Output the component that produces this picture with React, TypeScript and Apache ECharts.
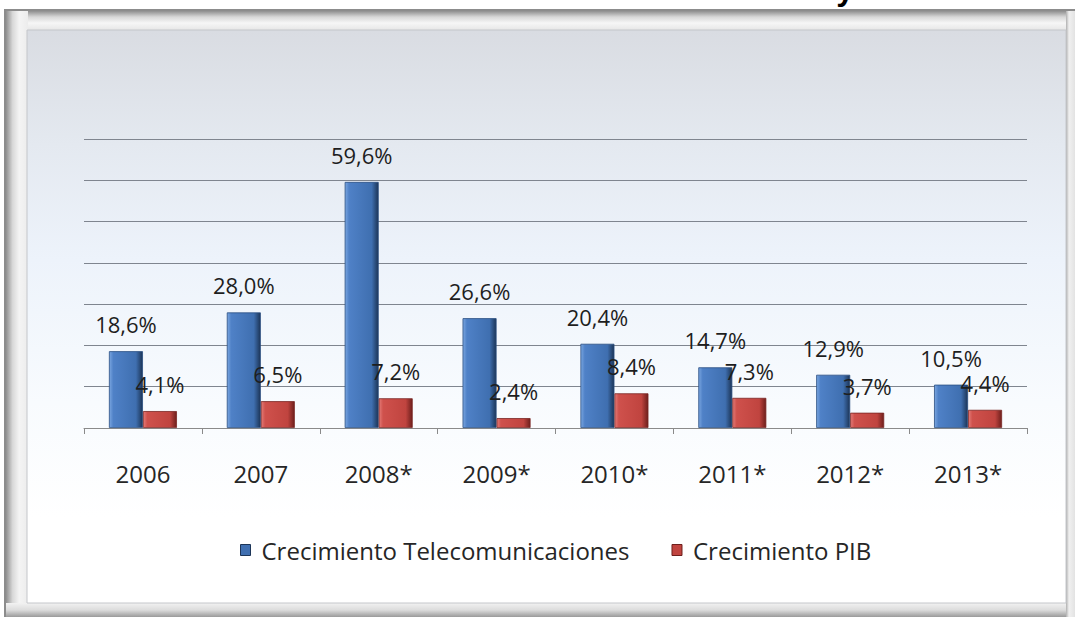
import React, { useEffect, useRef } from "react";
import * as echarts from "echarts";

const categories = ["2006", "2007", "2008*", "2009*", "2010*", "2011*", "2012*", "2013*"];
const telecomGrowth = [18.6, 28.0, 59.6, 26.6, 20.4, 14.7, 12.9, 10.5];
const gdpGrowth = [4.1, 6.5, 7.2, 2.4, 8.4, 7.3, 3.7, 4.4];
const seriesNames = ["Crecimiento Telecomunicaciones", "Crecimiento PIB"];
const titleText = "Crecimiento del sector Telecomunicaciones y del";
const yMin = 0;
const yMax = 70;
const yInterval = 10;

const FONT = "'Open Sans', 'Noto Sans', sans-serif";

const fmt = (v: number) => v.toFixed(1).replace(".", ",") + "%";

const lg = (x2: number, y2: number, stops: [number, string][]) =>
  new echarts.graphic.LinearGradient(0, 0, x2, y2, stops.map(([offset, color]) => ({ offset, color })));

export default function App() {
  const ref = useRef<HTMLDivElement>(null);
  useEffect(() => {
    if (!ref.current) return;
    const chart = echarts.init(ref.current, undefined, { renderer: "svg" });
    const blue = lg(1, 0, [
      [0, "#7aa6e0"],
      [0.12, "#4f81c7"],
      [0.8, "#3f6fb0"],
      [1, "#1c3557"],
    ]);
    const red = lg(1, 0, [
      [0, "#e47b77"],
      [0.12, "#cf514c"],
      [0.8, "#c0443f"],
      [1, "#6e1f1c"],
    ]);
    const labelStyle = {
      show: true,
      position: "top",
      distance: 16,
      formatter: (p: any) => fmt(p.value),
      fontFamily: FONT,
      fontSize: 22,
      color: "#1e1e1e",
    };
    chart.setOption({
      animation: false,
      backgroundColor: "#ffffff",
      graphic: [
        // outer frame
        {
          type: "rect",
          z: -20,
          shape: { x: 5, y: 10, width: 1080, height: 607 },
          style: { fill: "#e9e9e9", stroke: "#8c8c8c", lineWidth: 2 },
          silent: true,
        },
        {
          type: "rect",
          z: -19,
          shape: { x: 6, y: 11, width: 1080, height: 20 },
          style: {
            fill: lg(0, 1, [
              [0, "#8f8f8f"],
              [0.3, "#d8d8d8"],
              [0.6, "#f6f6f6"],
              [1, "#e4e4e4"],
            ]),
          },
          silent: true,
        },
        {
          type: "rect",
          z: -19,
          shape: { x: 6, y: 11, width: 22, height: 606 },
          style: {
            fill: lg(1, 0, [
              [0, "#8f8f8f"],
              [0.3, "#d8d8d8"],
              [0.6, "#f4f4f4"],
              [1, "#ececec"],
            ]),
          },
          silent: true,
        },
        {
          type: "rect",
          z: -19,
          shape: { x: 6, y: 603, width: 1080, height: 14 },
          style: {
            fill: lg(0, 1, [
              [0, "#f2f2f2"],
              [0.5, "#dcdcdc"],
              [1, "#9a9a9a"],
            ]),
          },
          silent: true,
        },
        {
          type: "rect",
          z: -19,
          shape: { x: 1066, y: 11, width: 10, height: 606 },
          style: {
            fill: lg(1, 0, [
              [0, "#b0b0b0"],
              [0.3, "#f0f0f0"],
              [1, "#e0e0e0"],
            ]),
          },
          silent: true,
        },
        // inner panel
        {
          type: "rect",
          z: -18,
          shape: { x: 27, y: 30, width: 1039, height: 573 },
          style: {
            fill: lg(0, 1, [
              [0, "#d9dce2"],
              [0.2, "#e4e9f0"],
              [0.4, "#edf3fb"],
              [0.65, "#f8fbfe"],
              [0.85, "#ffffff"],
              [1, "#ffffff"],
            ]),
            stroke: "#c4c6ca",
            lineWidth: 1,
          },
          silent: true,
        },
        // title, cropped at the top edge of the picture
        {
          type: "text",
          z: 10,
          x: 535,
          y: -11,
          style: {
            text: titleText,
            font: "bold 32px 'Liberation Sans', Arial, sans-serif",
            fill: "#000000",
            align: "center",
            verticalAlign: "middle",
          },
          silent: true,
        },
      ],
      grid: { left: 84, right: 48, top: 139, bottom: 189 },
      legend: {
        left: 235,
        top: 533,
        icon: "rect",
        itemWidth: 10,
        itemHeight: 11,
        itemGap: 42,
        textStyle: { fontFamily: FONT, fontSize: 24, color: "#262626", padding: [0, 0, 0, 6] },
        data: [
          { name: seriesNames[0], itemStyle: { color: "#3f6fb0", borderColor: "#1c3557", borderWidth: 1 } },
          { name: seriesNames[1], itemStyle: { color: "#c0443f", borderColor: "#6e1f1c", borderWidth: 1 } },
        ],
      },
      xAxis: {
        type: "category",
        data: categories,
        axisLine: { lineStyle: { color: "#8a8a8a", width: 1 } },
        axisTick: { show: true, length: 6, lineStyle: { color: "#8a8a8a" } },
        axisLabel: { fontFamily: FONT, fontSize: 24, color: "#262626", margin: 33 },
      },
      yAxis: {
        type: "value",
        min: yMin,
        max: yMax,
        interval: yInterval,
        axisLine: { show: false },
        axisTick: { show: false },
        axisLabel: { show: false },
        splitLine: { lineStyle: { color: "#7f858f", width: 1.2 } },
      },
      series: [
        {
          name: seriesNames[0],
          type: "bar",
          data: telecomGrowth,
          barWidth: 34,
          barGap: "0%",
          itemStyle: { color: blue, borderColor: "#2a4e82", borderWidth: 0.8 },
          label: labelStyle,
        },
        {
          name: seriesNames[1],
          type: "bar",
          data: gdpGrowth,
          barWidth: 34,
          barGap: "0%",
          itemStyle: { color: red, borderColor: "#7a2623", borderWidth: 0.8 },
          label: labelStyle,
        },
      ],
    });
    return () => chart.dispose();
  }, []);
  return (
    <div
      ref={ref}
      style={{ position: "fixed", left: 0, top: 0, width: 1075, height: 617 }}
    />
  );
}
